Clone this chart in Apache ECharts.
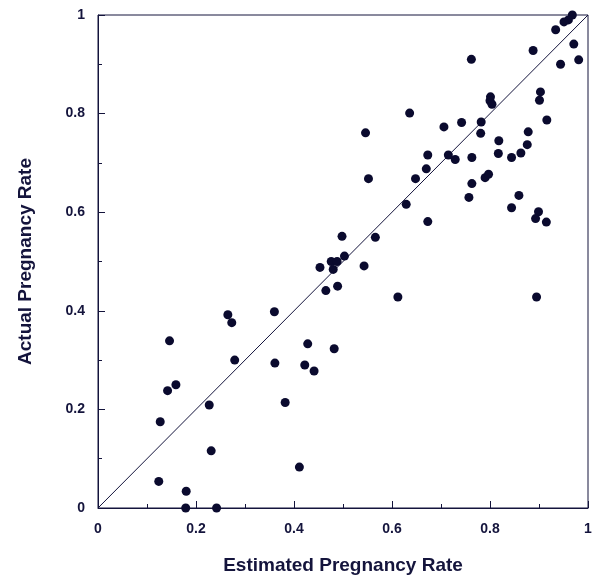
<!DOCTYPE html>
<html>
<head>
<meta charset="utf-8">
<script src="https://cdn.jsdelivr.net/npm/echarts@6/dist/echarts.min.js"></script>
<style>
  html, body { margin: 0; padding: 0; background: #fff; }
  #chart { width: 595px; height: 577px; }
</style>
</head>
<body>
<div id="chart"></div>
<script>
// estimated vs actual pregnancy rate
const estimated = [
  0.968, 0.960, 0.951, 0.934, 0.971, 0.888, 0.981, 0.944, 0.762, 0.903,
  0.901, 0.801, 0.800, 0.804, 0.636, 0.916, 0.742, 0.782, 0.706, 0.878,
  0.781, 0.546, 0.818, 0.876, 0.673, 0.715, 0.729, 0.763, 0.817, 0.844,
  0.863, 0.670, 0.648, 0.552, 0.763, 0.790, 0.797, 0.757, 0.859, 0.844,
  0.629, 0.899, 0.893, 0.915, 0.673, 0.498, 0.566, 0.503, 0.476, 0.488,
  0.453, 0.480, 0.465, 0.489, 0.543, 0.612, 0.895, 0.360, 0.265, 0.273,
  0.146, 0.428, 0.482, 0.279, 0.361, 0.422, 0.441, 0.159, 0.142, 0.227,
  0.382, 0.127, 0.231, 0.411, 0.124, 0.180, 0.179, 0.242
];
const actual = [
  1.000, 0.990, 0.986, 0.970, 0.941, 0.928, 0.909, 0.900, 0.910, 0.844,
  0.827, 0.834, 0.826, 0.819, 0.801, 0.787, 0.782, 0.783, 0.773, 0.763,
  0.760, 0.761, 0.745, 0.737, 0.716, 0.716, 0.707, 0.711, 0.719, 0.711,
  0.720, 0.688, 0.668, 0.668, 0.658, 0.670, 0.677, 0.630, 0.634, 0.609,
  0.616, 0.601, 0.587, 0.580, 0.581, 0.551, 0.549, 0.511, 0.500, 0.500,
  0.488, 0.484, 0.441, 0.450, 0.491, 0.428, 0.428, 0.398, 0.392, 0.376,
  0.339, 0.333, 0.323, 0.300, 0.294, 0.290, 0.278, 0.250, 0.238, 0.209,
  0.214, 0.175, 0.116, 0.083, 0.054, 0.034, 0.000, 0.000
];
const identityLine = [[0, 0], [1, 1]];

const ink = '#14143c';
const points = estimated.map((x, i) => [x, actual[i]]);

const chart = echarts.init(document.getElementById('chart'));

const axisCommon = {
  min: 0,
  max: 1,
  interval: 0.2,
  nameLocation: 'middle',
  nameTextStyle: {
    color: ink,
    fontFamily: 'Liberation Sans, Arial, sans-serif',
    fontSize: 19,
    fontWeight: 'bold'
  },
  axisLine: { show: true, lineStyle: { color: ink, width: 1 } },
  axisTick: { show: true, inside: true, length: 7, lineStyle: { color: ink } },
  minorTick: { show: true, splitNumber: 2, length: 4, lineStyle: { color: ink } },
  splitLine: { show: false },
  axisLabel: {
    color: ink,
    fontFamily: 'Liberation Sans, Arial, sans-serif',
    fontSize: 14,
    fontWeight: 'bold',
    formatter: v => String(+v.toFixed(1))
  }
};

chart.setOption({
  animation: false,
  grid: {
    left: 98,
    top: 15,
    right: 7,
    bottom: 69,
    outerBoundsMode: 'none',
    show: true,
    borderColor: ink,
    borderWidth: 1,
    backgroundColor: 'transparent'
  },
  xAxis: Object.assign({}, axisCommon, {
    type: 'value',
    name: 'Estimated Pregnancy Rate',
    nameGap: 48,
    axisLabel: Object.assign({}, axisCommon.axisLabel, { margin: 14 })
  }),
  yAxis: Object.assign({}, axisCommon, {
    type: 'value',
    name: 'Actual Pregnancy Rate',
    nameGap: 63,
    axisLabel: Object.assign({}, axisCommon.axisLabel, { margin: 13 })
  }),
  series: [
    {
      type: 'line',
      data: identityLine,
      symbol: 'none',
      lineStyle: { color: ink, width: 1 },
      z: 1
    },
    {
      type: 'scatter',
      data: points,
      symbolSize: 9,
      itemStyle: { color: '#0a0a2e', opacity: 1 },
      z: 2
    }
  ]
});
</script>
</body>
</html>
